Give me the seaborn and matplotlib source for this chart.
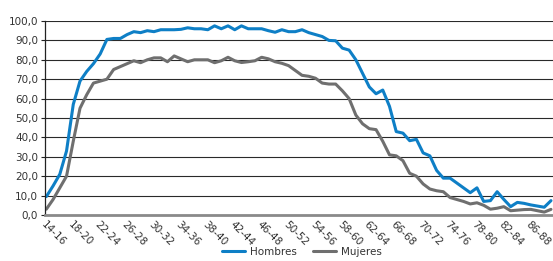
import matplotlib
matplotlib.use("Agg")
import matplotlib.pyplot as plt
import seaborn as sns
import pandas as pd
import numpy as np

# age windows 14-16 ... 89-91
start_ages = list(range(14, 90))
age_labels = [f"{a}-{a + 2}" for a in start_ages]

hombres = [9.5, 15, 21, 33, 57, 69, 74, 78, 83, 90.5,
           91, 91, 93, 94.5, 94, 95, 94.5, 95.5, 95.5, 95.5,
           95.7, 96.5, 96, 96, 95.5, 97.5, 96, 97.5, 95.5, 97.5,
           96, 96, 96, 95, 94.2, 95.5, 94.5, 94.5, 95.5, 94,
           93, 92, 90, 89.8, 86, 85, 80, 73, 66, 62.5,
           64.4, 56, 43, 42.2, 38.3, 39, 32, 30.5, 23, 19,
           19, 16.5, 14, 11.5, 14, 7, 7.4, 12, 8, 4.3,
           6.5, 6, 5.2, 4.6, 4, 7.4]

mujeres = [3, 8, 14, 20, 38, 55, 62, 68, 69, 70,
           75, 76.5, 78, 79.5, 78.5, 80, 81, 81, 79, 82,
           80.5, 79, 80, 80, 80, 78.5, 79.5, 81.3, 79.5, 78.6,
           79, 79.5, 81.3, 80.5, 79, 78.2, 77, 74.5, 72, 71.5,
           70.5, 68, 67.5, 67.5, 64, 60, 51.5, 47, 44.5, 44,
           38, 31, 30.5, 28, 21.5, 20, 16, 13.4, 12.5, 12,
           9, 8, 7, 5.7, 6.3, 5, 3, 3.5, 4.3, 2.2,
           2.5, 2.8, 2.9, 2.2, 1.5, 2.9]

df = pd.DataFrame({
    "idx": list(range(len(start_ages))) * 2,
    "valor": hombres + mujeres,
    "sexo": ["Hombres"] * len(hombres) + ["Mujeres"] * len(mujeres),
})

sns.set_style("white")
plt.rcParams["font.family"] = ["DejaVu Sans"]

fig = plt.figure(figsize=(5.53, 2.61), dpi=100)
ax = fig.add_axes([45 / 553, 1 - 215 / 261, 1 - 45 / 553, (215 - 21) / 261])

sns.lineplot(data=df, x="idx", y="valor", hue="sexo",
             palette={"Hombres": "#0e7fc6", "Mujeres": "#6f6f6f"},
             linewidth=2.2, ax=ax, legend=False)

ax.set_xlim(-0.2, 75.3)
ax.set_ylim(0, 100)
ax.set_yticks(np.arange(0, 101, 10))
ax.set_yticklabels([f"{v:.1f}".replace(".", ",") for v in range(0, 101, 10)], fontsize=7.5, color="#333333")
for v in range(10, 101, 10):
    ax.axhline(v, color="#2a2a2a", lw=0.8, zorder=0)

ticks = list(range(0, len(start_ages), 4))
ax.set_xticks(ticks)
ax.set_xticklabels([age_labels[i] for i in ticks], rotation=-45, ha="left", va="top",
                   rotation_mode="anchor", fontsize=7.5, color="#333333")
ax.tick_params(axis="x", length=0, pad=3)
ax.tick_params(axis="y", length=3, width=0.8, color="#222222", pad=2, left=True)
ax.set_xlabel("")
ax.set_ylabel("")

for s in ["top", "right"]:
    ax.spines[s].set_visible(False)
ax.spines["left"].set_color("#222222")
ax.spines["left"].set_linewidth(0.9)
ax.spines["bottom"].set_color("#8a8a8a")
ax.spines["bottom"].set_linewidth(2)

handles = [plt.Line2D([], [], color="#0e7fc6", lw=2.2),
           plt.Line2D([], [], color="#6f6f6f", lw=2.2)]
fig.legend(handles, ["Hombres", "Mujeres"], loc="center", bbox_to_anchor=(302 / 553, 0.035),
           ncol=2, frameon=False, fontsize=7.5, handlelength=2.2, columnspacing=1.5,
           handletextpad=0.5, labelcolor="#333333")

fig.savefig("out.png", dpi=100)
